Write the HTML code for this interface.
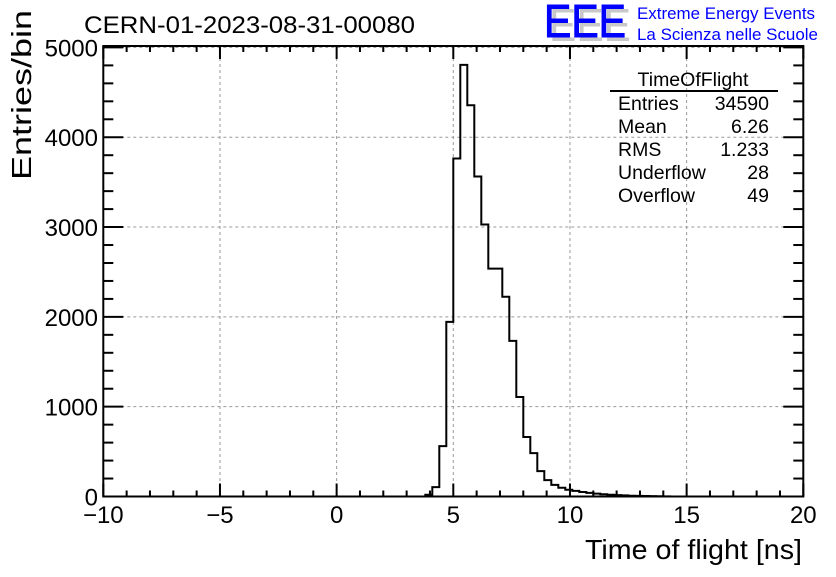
<!DOCTYPE html>
<html><head><meta charset="utf-8"><style>
body{margin:0;background:#fff;}
svg text{font-family:"Liberation Sans",sans-serif;}
</style></head><body>
<svg id="chart" width="836" height="572" viewBox="0 0 836 572" xmlns="http://www.w3.org/2000/svg">
<rect width="836" height="572" fill="#fff"/>
<g id="grid"></g>
<path id="hist" fill="none" stroke="#000" stroke-width="2"/>
<g id="axes"></g>
<text x="84" y="33" font-size="24" textLength="331" lengthAdjust="spacingAndGlyphs">CERN-01-2023-08-31-00080</text>
<g>
<text x="549" y="41" font-size="46" fill="#c8c8c8" textLength="82" lengthAdjust="spacingAndGlyphs">EEE</text>
<text x="544" y="37" font-size="46" fill="#0000ff" stroke="#0000ff" stroke-width="1" textLength="82" lengthAdjust="spacingAndGlyphs">EEE</text>
<text x="637" y="19" font-size="17" fill="#0000ff" textLength="178" lengthAdjust="spacingAndGlyphs">Extreme Energy Events</text>
<text x="637" y="40" font-size="17" fill="#0000ff" textLength="181" lengthAdjust="spacingAndGlyphs">La Scienza nelle Scuole</text>
</g>
<g font-size="19.5">
<text x="693" y="86" text-anchor="middle">TimeOfFlight</text>
<line x1="610" y1="91" x2="778" y2="91" stroke="#000" stroke-width="2"/>
<text x="618" y="110">Entries</text><text x="769" y="110" text-anchor="end">34590</text>
<text x="618" y="133">Mean</text><text x="769" y="133" text-anchor="end">6.26</text>
<text x="618" y="156">RMS</text><text x="769" y="156" text-anchor="end">1.233</text>
<text x="618" y="179">Underflow</text><text x="769" y="179" text-anchor="end">28</text>
<text x="618" y="202">Overflow</text><text x="769" y="202" text-anchor="end">49</text>
</g>
<text x="802" y="559" font-size="28" text-anchor="end" textLength="217" lengthAdjust="spacingAndGlyphs">Time of flight [ns]</text>
<text transform="translate(31,180) rotate(-90)" font-size="28" textLength="170" lengthAdjust="spacingAndGlyphs">Entries/bin</text>
</svg>
<script>
const binStart = 3.8;
const binWidth = 0.3;
const counts = [20,104,561,1945,3764,4806,4356,3563,3028,2537,2537,2224,1733,1108,662,483,282,182,130,97,75,62,50,40,32,25,20,16,12,9,7,5,4,3,2,0];
const xTicks = [-10,-5,0,5,10,15,20];
const yTicks = [0,1000,2000,3000,4000,5000];

const L=103.3,R=803.3,T=46,B=496.5,xmin=-10,xmax=20,ymax=5016;
const sx=v=>L+(v-xmin)/(xmax-xmin)*(R-L);
const sy=v=>B-v/ymax*(B-T);
const NS="http://www.w3.org/2000/svg";
function mk(tag,attrs,parent){const e=document.createElementNS(NS,tag);for(const k in attrs)e.setAttribute(k,attrs[k]);parent.appendChild(e);return e;}
const grid=document.getElementById('grid'),axes=document.getElementById('axes');
xTicks.forEach(v=>{if(v>xmin&&v<xmax){const l=mk('line',{x1:sx(v),x2:sx(v),y1:T,y2:B,stroke:'#999','stroke-dasharray':'3,3','stroke-width':1},grid);

}});
yTicks.forEach(v=>{if(v>0){const l=mk('line',{x1:L,x2:R,y1:sy(v),y2:sy(v),stroke:'#999','stroke-dasharray':'3,3','stroke-width':1},grid);

}});
let d='M'+sx(binStart)+','+sy(0);
counts.forEach((c,i)=>{const x0=sx(binStart+i*binWidth),x1=sx(binStart+(i+1)*binWidth);d+=' L'+x0+','+sy(c)+' L'+x1+','+sy(c);});
d+=' L'+sx(binStart+counts.length*binWidth)+','+sy(0);
document.getElementById('hist').setAttribute('d',d);
const fr=mk('rect',{x:L,y:T,width:R-L,height:B-T,fill:'none',stroke:'#000','stroke-width':2},axes);


for(let v=xmin;v<=xmax;v++){const maj=v%5===0,len=maj?13:6;
mk('line',{x1:sx(v),x2:sx(v),y1:B,y2:B-len,stroke:'#000','stroke-width':2},axes);
mk('line',{x1:sx(v),x2:sx(v),y1:T,y2:T+len,stroke:'#000','stroke-width':2},axes);}
xTicks.forEach(v=>{const t=mk('text',{x:sx(v),y:523,'font-size':24,'text-anchor':'middle'},axes);t.textContent=v<0?'\u2212'+(-v):String(v);

});
for(let v=0;v<=ymax;v+=200){const maj=v%1000===0,len=maj?20:10;
mk('line',{x1:L,x2:L+len,y1:sy(v),y2:sy(v),stroke:'#000','stroke-width':2},axes);
mk('line',{x1:R,x2:R-len,y1:sy(v),y2:sy(v),stroke:'#000','stroke-width':2},axes);}
yTicks.forEach(v=>{const t=mk('text',{x:98,y:sy(v)+9,'font-size':24,'text-anchor':'end'},axes);t.textContent=String(v);

});
</script>
</body></html>
